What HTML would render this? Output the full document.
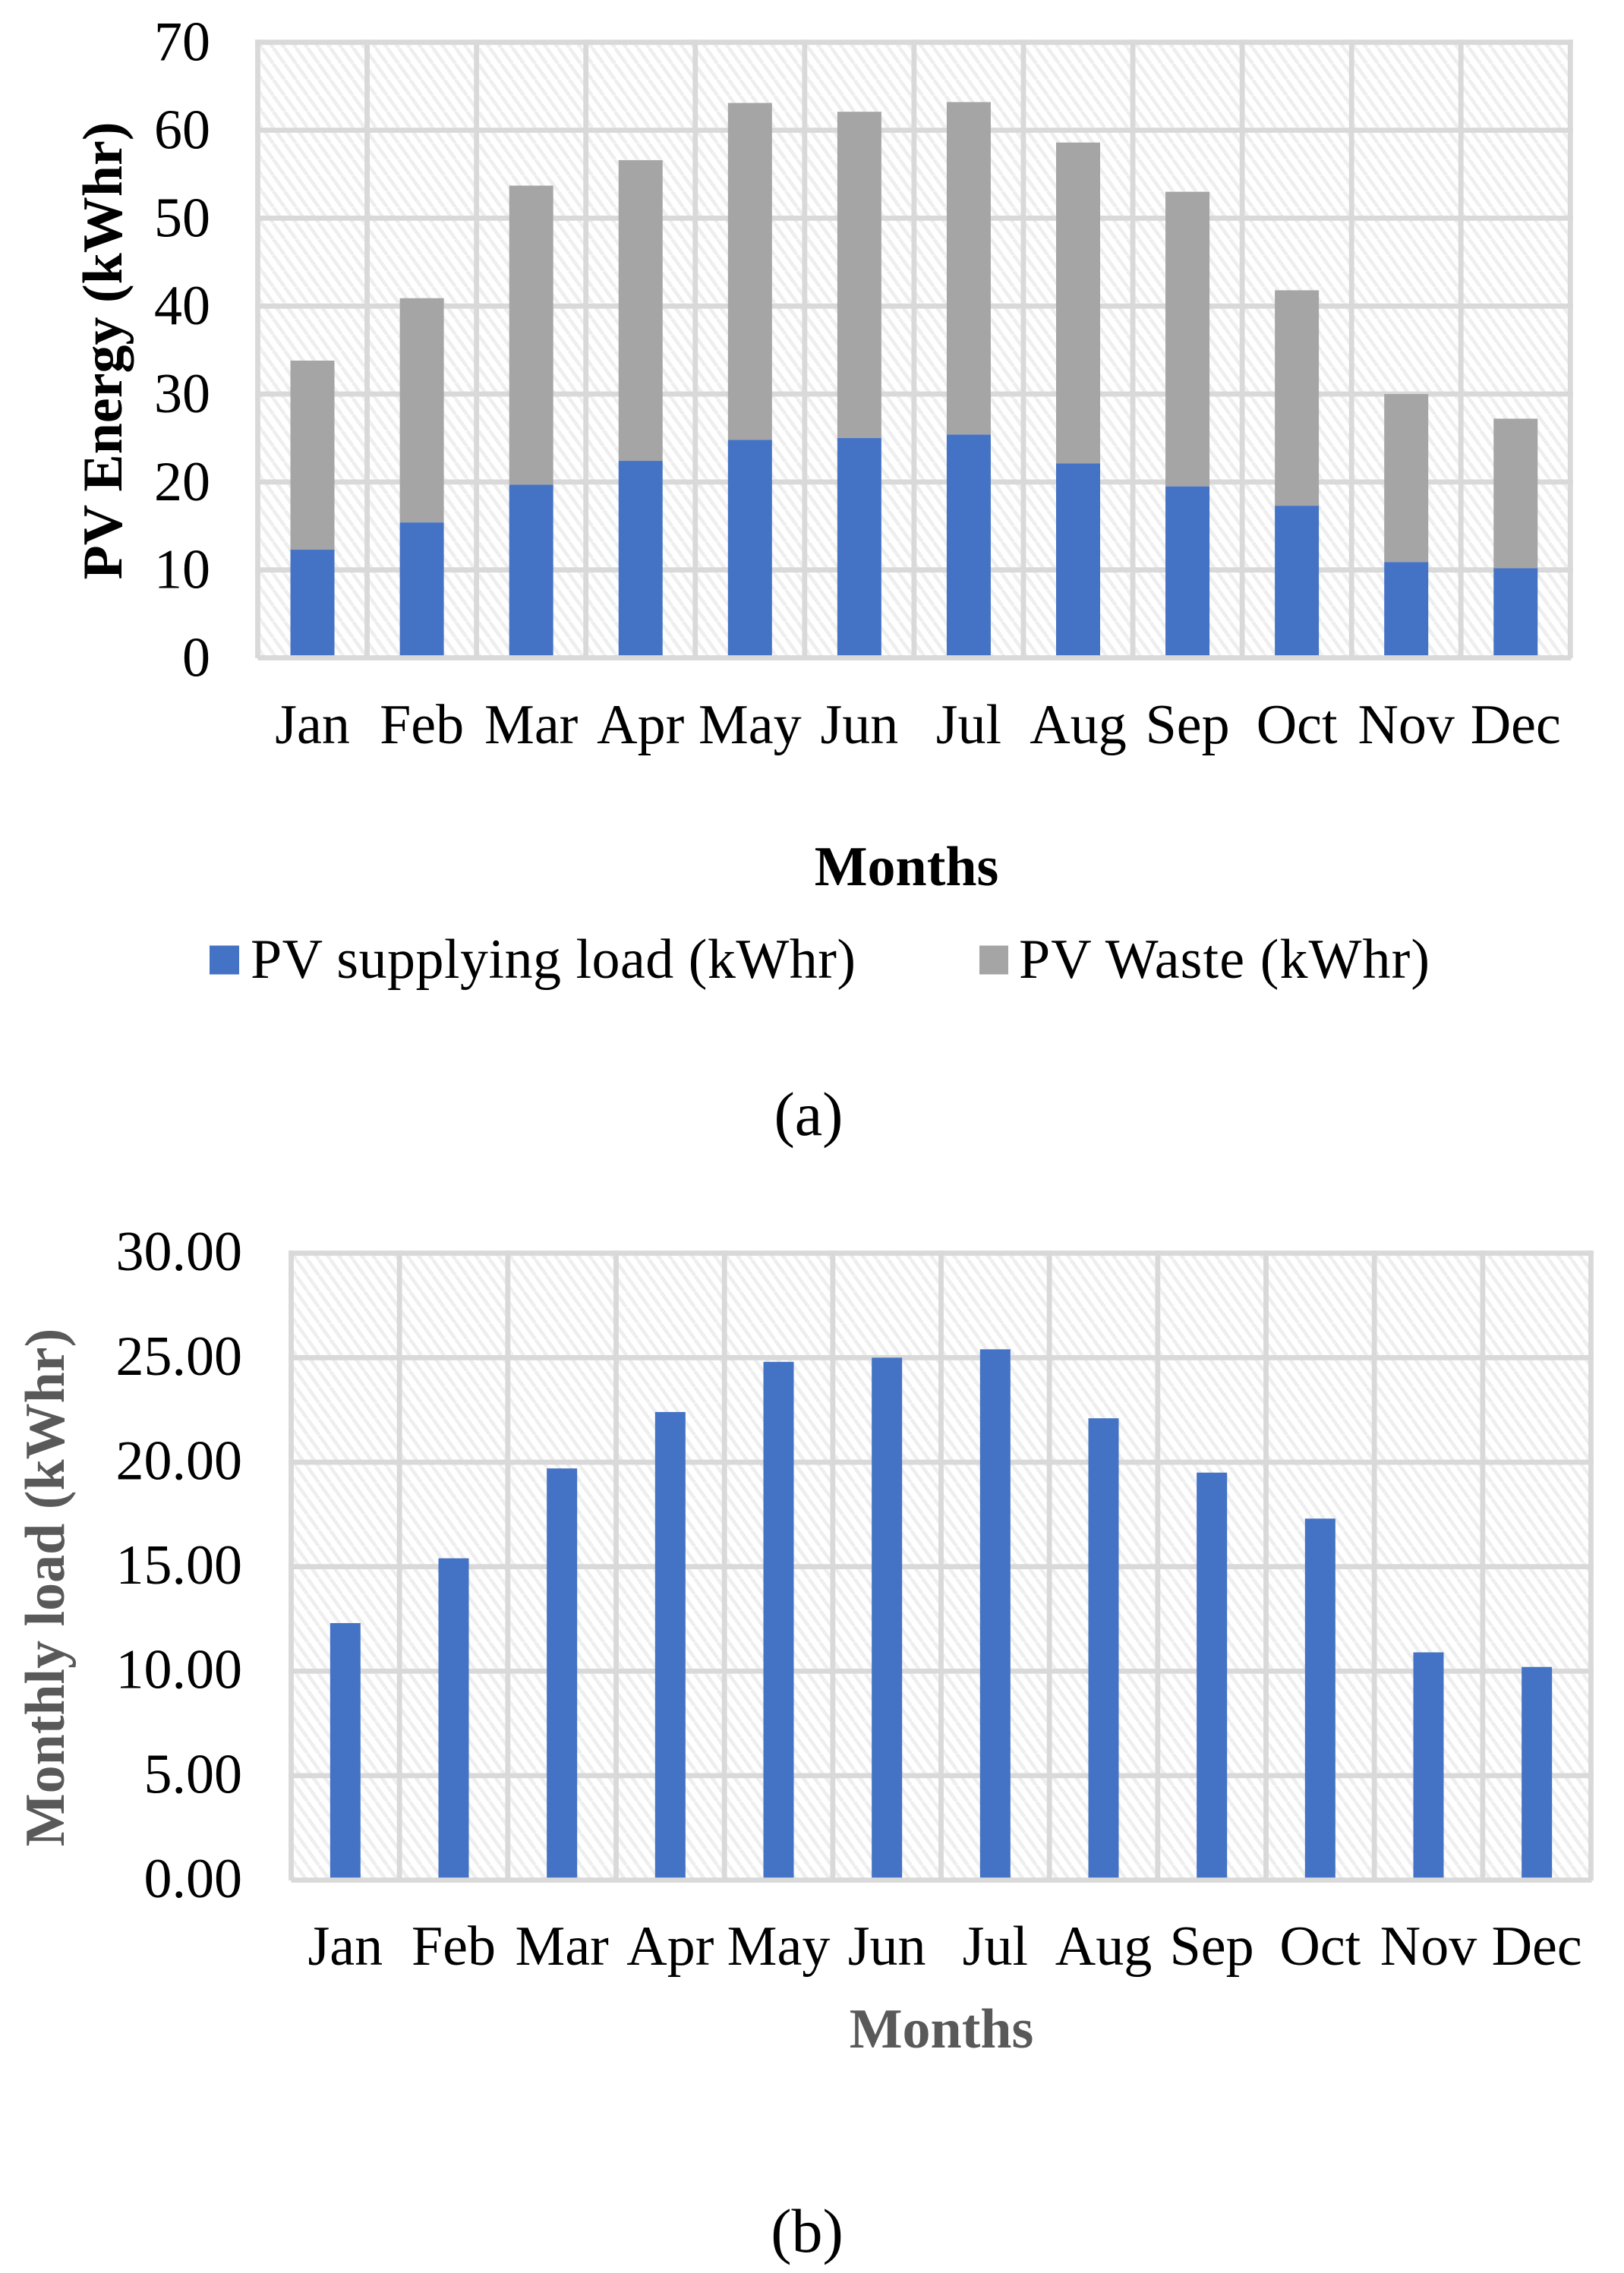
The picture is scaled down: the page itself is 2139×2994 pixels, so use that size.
<!DOCTYPE html>
<html lang="en">
<head>
<meta charset="utf-8">
<title>PV energy and monthly load charts</title>
<style>
html,body{margin:0;padding:0;background:#fff;width:2139px;height:2994px;overflow:hidden}
svg{display:block}
text{font-family:"Liberation Serif",serif;fill:#000}
.bold{font-weight:bold}
.muted{fill:#595959}
</style>
</head>
<body>
<svg id="figure" xmlns="http://www.w3.org/2000/svg" width="2139" height="2994" viewBox="0 0 2139 2994">
  <defs>
    <pattern id="hatch" patternUnits="userSpaceOnUse" width="15" height="21">
      <rect width="15" height="21" fill="#ffffff"/>
      <path d="M-15 0L0 21M0 0L15 21M15 0L30 21" stroke="#eeeeee" stroke-width="4.6" fill="none"/>
    </pattern>
  </defs>
  <g id="chart-a"></g>
  <g id="chart-b"></g>

  <text class="bold" font-size="74" text-anchor="middle" transform="translate(160 462) rotate(-90)">PV Energy (kWhr)</text>
  <text class="bold" font-size="74" text-anchor="middle" x="1194" y="1166">Months</text>

  <rect x="276" y="1245.5" width="39" height="38" fill="#4472c4"/>
  <text font-size="74" x="330" y="1288" textLength="797" lengthAdjust="spacing">PV supplying load (kWhr)</text>
  <rect x="1290" y="1245.5" width="38" height="38" fill="#a5a5a5"/>
  <text font-size="74" x="1342" y="1288" textLength="541" lengthAdjust="spacing">PV Waste (kWhr)</text>

  <text font-size="82" text-anchor="middle" x="1065" y="1495">(a)</text>

  <text class="bold muted" font-size="74" text-anchor="middle" transform="translate(84 2091) rotate(-90)">Monthly load (kWhr)</text>
  <text class="bold muted" font-size="74" text-anchor="middle" x="1240" y="2697">Months</text>

  <text font-size="82" text-anchor="middle" x="1063" y="2966">(b)</text>
</svg>
<script>
const months = ["Jan","Feb","Mar","Apr","May","Jun","Jul","Aug","Sep","Oct","Nov","Dec"];
const pvSupplyingLoad = [12.3,15.4,19.7,22.4,24.8,25.0,25.4,22.1,19.5,17.3,10.9,10.2];
const pvWaste = [21.5,25.5,34.0,34.2,38.3,37.1,37.8,36.5,33.5,24.5,19.1,17.0];
const energyTicks = [0,10,20,30,40,50,60,70];
const monthlyLoad = [12.3,15.4,19.7,22.4,24.8,25.0,25.4,22.1,19.5,17.3,10.9,10.2];
const loadTicks = ["0.00","5.00","10.00","15.00","20.00","25.00","30.00"];

const NS = "http://www.w3.org/2000/svg";
function make(parent, tag, props) {
  const el = document.createElementNS(NS, tag);
  for (const k in props) el.setAttribute(k, props[k]);
  parent.appendChild(el);
  return el;
}

function frame(parent, g) {
  const bg = make(parent, "rect", {x: g.left, y: g.top, width: g.right - g.left, height: g.bottom - g.top, fill: "url(#hatch)"});
  
  
}

function grid(parent, g, tickCount, yAt) {
  for (let i = 1; i < tickCount; i++) {
    const y = yAt(i);
    const h = make(parent, "line", {x1: g.left - 3.5, x2: g.right + 3.5, y1: y, y2: y, stroke: "#d9d9d9", "stroke-width": 6.8});
    
    
  }
  for (let i = 0; i <= months.length; i++) {
    const x = g.left + i * g.step;
    const v = make(parent, "line", {x1: x, x2: x, y1: g.top - 3.5, y2: g.bottom + 0.5, stroke: "#d9d9d9", "stroke-width": 6.8});
    
    
  }
}

function baseLine(parent, g) {
  const base = make(parent, "line", {x1: g.left, x2: g.right + 1, y1: g.bottom, y2: g.bottom, stroke: "#d9d9d9", "stroke-width": 6.8});
  
  
}

function monthLabels(parent, g, baseline) {
  months.forEach((m, i) => {
    const t = make(parent, "text", {x: g.left + (i + 0.5) * g.step, y: baseline, "font-size": 74, "text-anchor": "middle"});
    t.textContent = m;
    
    
  });
}

/* Chart (a): stacked bars */
(function () {
  const root = document.getElementById("chart-a");
  const g = {left: 339.5, right: 2068.3, top: 55.7, bottom: 866.5, step: (2068.3 - 339.5) / 12, barWidth: 58};
  const maxV = energyTicks[energyTicks.length - 1];
  const yScale = v => g.bottom - (v / maxV) * (g.bottom - g.top);
  frame(root, g);
  grid(root, g, energyTicks.length, i => yScale(energyTicks[i]));
  months.forEach((m, i) => {
    const x = g.left + (i + 0.5) * g.step - g.barWidth / 2;
    const s = pvSupplyingLoad[i];
    const w = pvWaste[i];
    const lower = make(root, "rect", {x: x, y: yScale(s), width: g.barWidth, height: yScale(0) - yScale(s), fill: "#4472c4"});
    
    
    const upper = make(root, "rect", {x: x, y: yScale(s + w), width: g.barWidth, height: yScale(s) - yScale(s + w), fill: "#a5a5a5"});
    
    
  });
  baseLine(root, g);
  energyTicks.forEach(v => {
    const t = make(root, "text", {x: 277, y: yScale(v) + 24, "font-size": 74, "text-anchor": "end"});
    t.textContent = v;
    
    
  });
  monthLabels(root, g, 979);
})();

/* Chart (b): single series bars */
(function () {
  const root = document.getElementById("chart-b");
  const g = {left: 383.5, right: 2095.5, top: 1650.7, bottom: 2476.5, step: (2095.5 - 383.5) / 12, barWidth: 40};
  const maxV = parseFloat(loadTicks[loadTicks.length - 1]);
  const yScale = v => g.bottom - (v / maxV) * (g.bottom - g.top);
  frame(root, g);
  grid(root, g, loadTicks.length, i => yScale(parseFloat(loadTicks[i])));
  monthlyLoad.forEach((v, i) => {
    const x = g.left + (i + 0.5) * g.step - g.barWidth / 2;
    const bar = make(root, "rect", {x: x, y: yScale(v), width: g.barWidth, height: yScale(0) - yScale(v), fill: "#4472c4"});
    
    
  });
  baseLine(root, g);
  loadTicks.forEach(v => {
    const t = make(root, "text", {x: 319, y: yScale(parseFloat(v)) + 22.5, "font-size": 74, "text-anchor": "end"});
    t.textContent = v;
    
    
  });
  monthLabels(root, g, 2588);
})();
</script>
</body>
</html>
